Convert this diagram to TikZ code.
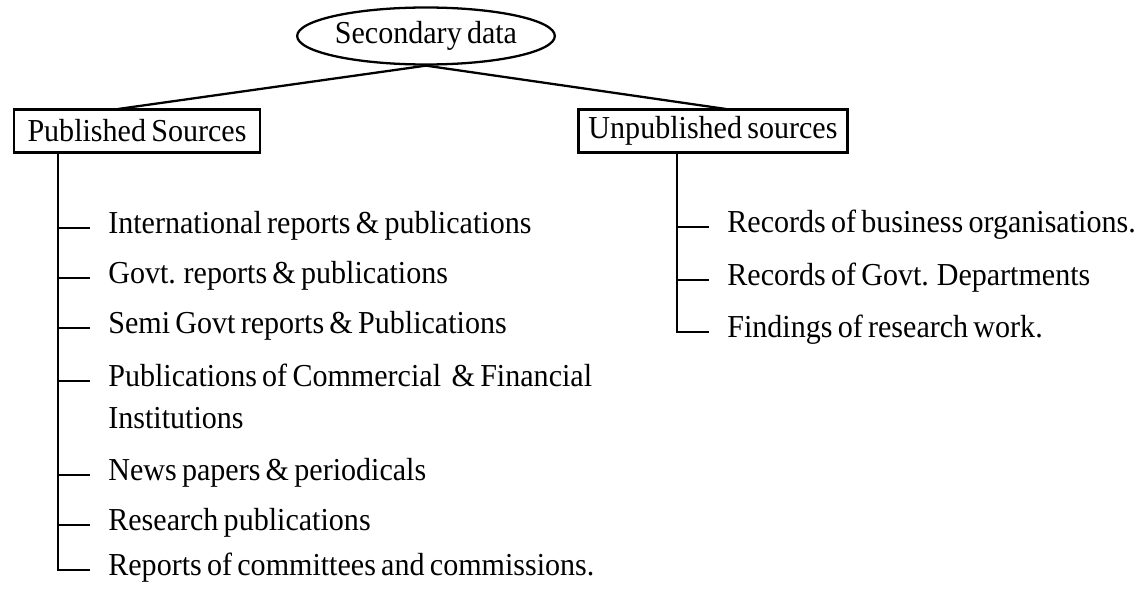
\documentclass[tikz,border=0pt]{standalone}
\usepackage{fontspec}
\setmainfont{Liberation Serif}[WordSpace=0.7, FakeStretch=0.94]
\usetikzlibrary{shapes.geometric,positioning}

\begin{document}
\begin{tikzpicture}[
  x=0.02cm, y=-0.02cm,
  every node/.style={font=\fontsize{18.2}{22}\selectfont},
  oval/.style={draw, ellipse, line width=1.3pt, inner sep=0pt, minimum width=4.74cm, minimum height=1.14cm},
  box/.style={draw, line width=1.5pt, inner sep=0pt, minimum height=0.86cm},
  item/.style={anchor=west, inner xsep=0.36cm, inner ysep=0pt, text height=0.7em, text depth=0.04em},
  ln/.style={line width=1.3pt},
  tick/.style={line width=1.6pt}
]
\useasboundingbox (0,0) rectangle (1143,595);
\node[oval] (sec) at (426,36) {Secondary data};
\node[box, minimum width=4.92cm] (pub) at (137,131) {Published Sources};
\node[box, minimum width=5.38cm] (unpub) at (713,131) {Unpublished sources};
\coordinate (pubin) at (118,109);
\coordinate (unpubin) at (726,109);
\draw[ln] (pubin) -- (sec.south) -- (unpubin);

\coordinate (ltrunk) at (58,153);
\node[item] (p1) at (90,228) {International reports \& publications};
\node[item] (p2) at (90,278) {Govt. reports \& publications};
\node[item] (p3) at (90,328) {Semi Govt reports \& Publications};
\node[item] (p4) at (90,381) {Publications of Commercial~~\& Financial};
\node[item] (p4b) at (90,423) {Institutions};
\node[item] (p5) at (90,475) {News papers \& periodicals};
\node[item] (p6) at (90,525) {Research publications};
\node[item] (p7) at (90,570) {Reports of committees and commissions.};
\draw[tick] (ltrunk) |- (p7.west);
\foreach \n in {p1,p2,p3,p4,p5,p6}
  \draw[tick] (ltrunk |- \n.west) -- (\n.west);

\coordinate (rtrunk) at (677,152);
\node[item] (u1) at (709,227) {Records of business organisations.};
\node[item] (u2) at (709,280) {Records of Govt. Departments};
\node[item] (u3) at (709,332) {Findings of research work.};
\draw[tick] (rtrunk) |- (u3.west);
\foreach \n in {u1,u2}
  \draw[tick] (rtrunk |- \n.west) -- (\n.west);
\end{tikzpicture}
\end{document}
